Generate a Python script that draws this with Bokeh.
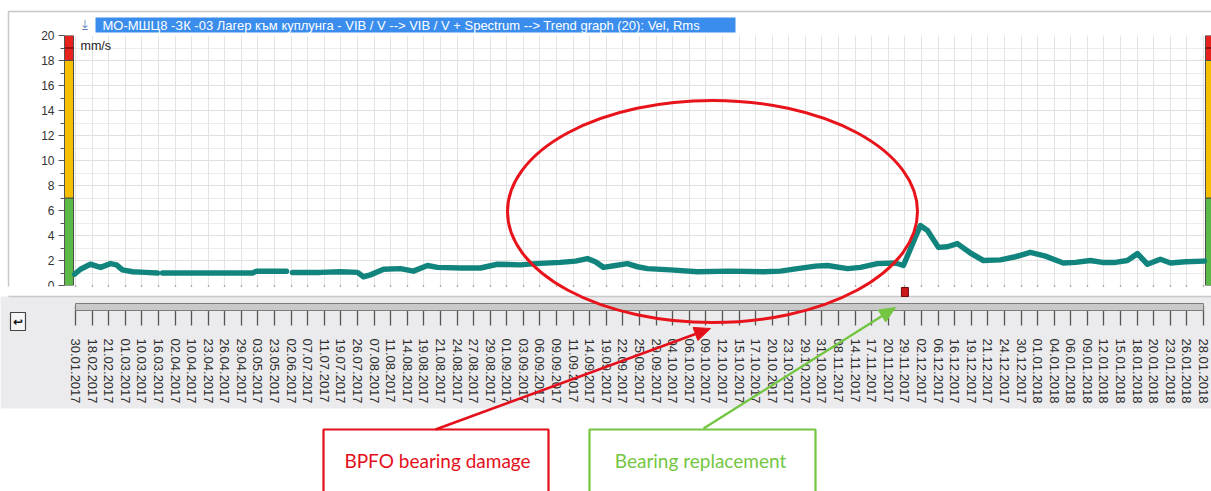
import math
from bokeh.plotting import figure
from bokeh.models import Range1d, LinearAxis, FixedTicker, Grid
from bokeh.core.properties import value
from bokeh.embed import file_html
from bokeh.resources import INLINE

# ---------------- data ----------------
dates = ["30.01.2017", "18.02.2017", "21.02.2017", "01.03.2017", "10.03.2017", "16.03.2017",
         "02.04.2017", "10.04.2017", "23.04.2017", "26.04.2017", "29.04.2017", "03.05.2017",
         "23.05.2017", "02.06.2017", "07.07.2017", "11.07.2017", "19.07.2017", "26.07.2017",
         "07.08.2017", "11.08.2017", "14.08.2017", "19.08.2017", "21.08.2017", "24.08.2017",
         "27.08.2017", "29.08.2017", "01.09.2017", "03.09.2017", "06.09.2017", "09.09.2017",
         "11.09.2017", "14.09.2017", "19.09.2017", "22.09.2017", "25.09.2017", "29.09.2017",
         "04.10.2017", "06.10.2017", "09.10.2017", "12.10.2017", "15.10.2017", "17.10.2017",
         "20.10.2017", "23.10.2017", "29.10.2017", "31.10.2017", "08.11.2017", "14.11.2017",
         "17.11.2017", "20.11.2017", "29.11.2017", "02.12.2017", "06.12.2017", "16.12.2017",
         "19.12.2017", "21.12.2017", "24.12.2017", "30.12.2017", "01.01.2018", "04.01.2018",
         "06.01.2018", "09.01.2018", "12.01.2018", "15.01.2018", "18.01.2018", "20.01.2018",
         "23.01.2018", "26.01.2018", "28.01.2018"]

nan = float("nan")
# position along the (evenly spaced) measurement axis, and Vel Rms in mm/s
pos = [-0.06, 0.30, 0.90, 1.51, 2.11, 2.47, 2.83, 3.44, 4.22, 4.94, nan,
       5.24, 8.00, 10.67, 10.91, 12.72, nan,
       13.08, 14.77, 15.97, 17.00, 17.36, 17.78, 18.57, 19.59, 20.37, 21.22, 21.82,
       23.21, 24.41, 25.44, 26.82, 27.73, 29.23, 30.14, 30.86, 31.34, 31.83, 32.55,
       33.27, 33.88, 34.48, 35.87, 37.49, 39.48, 41.47, 42.50, 43.52, 44.61, 45.33,
       46.54, 47.32, 48.34, 49.43, 49.91, 50.45, 50.93, 51.36, 52.02, 52.56, 53.16,
       53.95, 54.73, 55.76, 56.66, 57.56, 58.47, 59.55, 60.28, 61.18, 61.90, 62.69,
       63.41, 64.02, 64.62, 65.40, 66.01, 66.91, 68.05]
vel = [0.90, 1.30, 1.70, 1.45, 1.75, 1.65, 1.25, 1.10, 1.05, 1.00, nan,
       1.00, 1.00, 1.00, 1.15, 1.15, nan,
       1.05, 1.05, 1.10, 1.05, 0.70, 0.85, 1.30, 1.35, 1.15, 1.60, 1.45,
       1.40, 1.40, 1.70, 1.65, 1.75, 1.85, 1.95, 2.15, 1.90, 1.45, 1.60,
       1.75, 1.50, 1.35, 1.25, 1.10, 1.15, 1.10, 1.15, 1.35, 1.55, 1.60,
       1.35, 1.45, 1.75, 1.80, 1.60, 3.30, 4.80, 4.40, 3.05, 3.10, 3.35,
       2.60, 2.00, 2.05, 2.30, 2.65, 2.35, 1.80, 1.85, 2.00, 1.85, 1.85,
       2.00, 2.55, 1.70, 2.10, 1.80, 1.90, 1.95]

zone_edges = [0, 7, 18, 20]
zone_colors = ["#5cb947", "#f6c000", "#e8231e"]
danger_level = 19
y_ticks = list(range(0, 21, 2))
y_minor = list(range(1, 20, 2))
replacement_date = "29.11.2017"

title_text = ("МО-МШЦ8 -ЗК -03 Лагер към куплунга - VIB / V --> VIB / V + Spectrum "
              "--> Trend graph (20): Vel, Rms")
unit_text = "mm/s"
note_damage = "BPFO bearing damage"
note_repl = "Bearing replacement"

# ---------------- layout constants (pixels) ----------------
W, H = 1211, 491
FL, FT, FB = 64, 35, 285          # frame left / top / bottom
FIRST_PX, LAST_PX = 75, 1203      # where first / last date tick sit
ppu = (LAST_PX - FIRST_PX) / (len(dates) - 1)
x0 = -(FIRST_PX - FL) / ppu
x1 = (len(dates) - 1) + (W - LAST_PX) / ppu


def tick_px(i):
    return FIRST_PX + i * ppu


# ---------------- background layer ----------------
bg = figure(width=W, height=H, output_backend="svg", toolbar_location=None, title=None,
            x_range=Range1d(0, W), y_range=Range1d(H, 0), x_axis_location=None,
            y_axis_location=None, min_border=0, outline_line_color=None,
            background_fill_color="white", border_fill_color="white")
bg.center = []
bg.quad(left=[0], right=[W], top=[297], bottom=[408], fill_color="#ebebed", line_color=None)
bg.quad(left=[8], right=[W + 2], top=[11], bottom=[296], fill_alpha=0,
        line_color="#c8c8c8", line_width=1.5)

# ---------------- chart layer ----------------
p = figure(width=W, height=H, output_backend="svg", toolbar_location=None, title=None,
           x_range=Range1d(x0, x1), y_range=Range1d(0, 20), x_axis_location=None,
           min_border_left=FL, min_border_right=0, min_border_top=FT,
           min_border_bottom=H - FB, background_fill_color="white",
           border_fill_alpha=0, outline_line_color=None)

p.center = [r for r in p.center if not (isinstance(r, Grid) and r.dimension == 0)]
p.add_layout(Grid(dimension=0, ticker=FixedTicker(ticks=list(range(len(dates)))),
                  grid_line_color="#e4e4e4", grid_line_width=1), "center")
p.ygrid.grid_line_color = "#e0e0e0"
p.ygrid.minor_grid_line_color = "#ececec"

ya = p.yaxis[0]
ya.ticker = FixedTicker(ticks=y_ticks, minor_ticks=y_minor)
ya.major_tick_out = 6
ya.major_tick_in = 0
ya.minor_tick_out = 4
ya.minor_tick_in = 0
ya.major_label_standoff = 4
ya.major_label_text_font = "Liberation Sans"
ya.major_label_text_font_size = "12px"
ya.major_label_text_color = "#333333"
ya.axis_line_color = "#555555"
ya.major_tick_line_color = "#555555"
ya.minor_tick_line_color = "#555555"

bw_l = 9 / ppu
bw_r = 6 / ppu
for l, r in [(x0, x0 + bw_l), (x1 - bw_r, x1)]:
    p.quad(left=[l] * 3, right=[r] * 3, bottom=zone_edges[:-1], top=zone_edges[1:],
           fill_color=zone_colors, line_color="#4d4d4d", line_width=1)
    p.segment(x0=[l], x1=[r], y0=[danger_level], y1=[danger_level],
              line_color="#7a1010", line_width=1.5)

p.line(pos, vel, line_color="#11857d", line_width=5.5, line_join="round", line_cap="round")

da = LinearAxis(ticker=FixedTicker(ticks=list(range(len(dates)))),
                major_label_overrides={i: d for i, d in enumerate(dates)},
                major_label_orientation=-math.pi / 2,
                major_tick_out=40, major_tick_in=0, major_tick_line_color="#555555",
                major_tick_line_width=1.3, minor_tick_line_color=None,
                axis_line_color=None, major_label_standoff=13,
                major_label_text_font="Liberation Sans", major_label_text_font_size="13px",
                major_label_text_color="#2e2e2e")
p.add_layout(da, "below")
p.styles = {"position": "absolute", "top": "0px", "left": "0px"}

# ---------------- overlay layer ----------------
ov = figure(width=W, height=H, output_backend="svg", toolbar_location=None, title=None,
            x_range=Range1d(0, W), y_range=Range1d(H, 0), x_axis_location=None,
            y_axis_location=None, min_border=0, outline_line_color=None,
            background_fill_alpha=0, border_fill_alpha=0)
ov.center = []
ov.styles = {"position": "absolute", "top": "0px", "left": "0px"}

# strip between plot and scale (hides the upper part of the ticks)
ov.quad(left=[0], right=[W], top=[286], bottom=[296], fill_color="white", line_color=None)
ov.quad(left=[0], right=[W], top=[296], bottom=[305.5], fill_color="#ebebed", line_color=None)
ov.segment(x0=[8], x1=[W], y0=[296], y1=[296], line_color="#c8c8c8", line_width=1.5)
# scroll bar
ov.quad(left=[tick_px(0)], right=[tick_px(len(dates) - 1)], top=[303], bottom=[310],
        fill_color="#c9c9c9", line_color="#7c7c7c", line_width=1)
# replacement marker
ri = dates.index(replacement_date)
ov.quad(left=[tick_px(ri) - 3.5], right=[tick_px(ri) + 3.5], top=[287], bottom=[296],
        fill_color="#cc1818", line_color="#6b0c0c", line_width=1)
# back button
ov.quad(left=[10], right=[25], top=[312], bottom=[330], fill_color="#f6f6f6",
        line_color="#444444", line_width=1.2)
ov.text(x=[17.5], y=[321], text=["↩"], text_align="center", text_baseline="middle",
        text_font=value("DejaVu Sans"), text_font_size="12px", text_font_style="bold",
        text_color="#111111")

# title bar
ov.quad(left=[95], right=[735], top=[17], bottom=[32], fill_color="#3b8ded", line_color=None)
ov.text(x=[102], y=[25], text=[title_text], text_align="left", text_baseline="middle",
        text_font=value("Liberation Sans"), text_font_size="13px", text_color="white")
ov.text(x=[84], y=[24], text=["⤓"], text_align="center", text_baseline="middle",
        text_font=value("DejaVu Sans"), text_font_size="13px", text_color="#5a82b8")
ov.text(x=[80], y=[38], text=[unit_text], text_align="left", text_baseline="top",
        text_font=value("Liberation Sans"), text_font_size="12.5px", text_color="#222222")

# red ellipse
RED, GREEN = "#e3101c", "#74c642"
ov.ellipse(x=[712], y=[211], width=[410], height=[222], fill_alpha=0,
           line_color="#e8141c", line_width=3)

# note boxes
ov.quad(left=[323], right=[548], top=[429], bottom=[500], fill_color="white",
        line_color=RED, line_width=2.2)
ov.quad(left=[589], right=[815], top=[429], bottom=[500], fill_color="white",
        line_color=GREEN, line_width=2.2)
ov.text(x=[437], y=[460], text=[note_damage], text_align="center", text_baseline="middle",
        text_font=value("Lato"), text_font_size="19px", text_color=RED)
ov.text(x=[700], y=[460], text=[note_repl], text_align="center", text_baseline="middle",
        text_font=value("Lato"), text_font_size="19px", text_color=GREEN)


def arrow(sx, sy, ex, ey, color, head=16, half=7):
    dx, dy = ex - sx, ey - sy
    L = math.hypot(dx, dy)
    ux, uy = dx / L, dy / L
    bx, by = ex - head * ux, ey - head * uy
    nx, ny = -uy, ux
    ov.segment(x0=[sx], y0=[sy], x1=[bx], y1=[by], line_color=color, line_width=2.5)
    ov.patch(x=[ex, bx + half * nx, bx - half * nx], y=[ey, by + half * ny, by - half * ny],
             fill_color=color, line_color=color)


arrow(435, 429, 710, 328, RED)
arrow(703, 428, 895, 307, GREEN)

open("out.html", "w").write(file_html([bg, p, ov], INLINE))
